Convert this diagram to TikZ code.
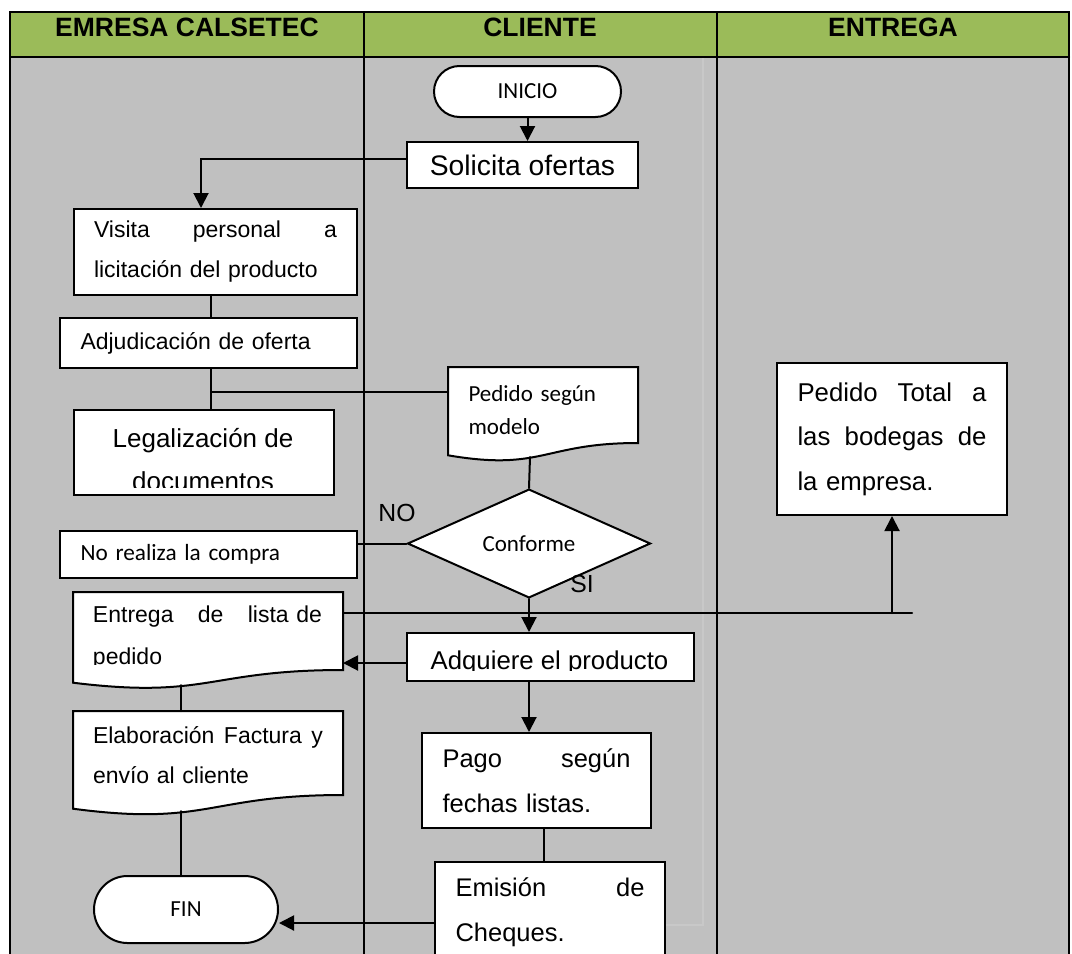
\documentclass[tikz,border=0pt]{standalone}
\usepackage{fontspec}
\setmainfont{Liberation Sans}
\newfontfamily\calfont{Carlito}
\usetikzlibrary{arrows.meta,calc,shapes.misc,shapes.geometric}
\definecolor{HeadGreen}{HTML}{9BBB59}
\definecolor{LaneGray}{HTML}{C0C0C0}
\definecolor{GhostGray}{HTML}{C8C8C8}
\tikzset{
  Flow/.style={line width=0.8pt},
  FlowArrow/.style={Flow, -{Triangle[length=6pt,width=6pt]}},
  ProcBox/.style={draw, fill=white, line width=0.8pt, inner sep=0pt, anchor=north west,
      font=\fontsize{9.2}{16}\selectfont},
  DocBox/.style={inner sep=0pt, anchor=north west},
  DocLine/.style={draw, fill=white, line width=0.8pt},
  Terminal/.style={draw, fill=white, line width=0.8pt, rounded rectangle, inner sep=0pt,
      font=\calfont\fontsize{9.2}{11}\selectfont},
  Decision/.style={draw, fill=white, line width=0.8pt, diamond, inner sep=0pt,
      font=\calfont\fontsize{9.2}{11}\selectfont},
  LaneHead/.style={inner sep=0pt, font=\bfseries\fontsize{10.6}{12}\selectfont},
  Branch/.style={inner sep=0pt, font=\fontsize{9.9}{11}\selectfont}
}
\begin{document}
\begin{tikzpicture}[x=0.4pt, y=-0.4pt, line cap=round]
  \useasboundingbox (0,0) rectangle (1072,953);

  \fill[LaneGray] (10,57) rectangle (1069,960);
  \fill[HeadGreen] (10,12) rectangle (1069,57);
  \draw[GhostGray, line width=0.5pt] (703,58) -- (703,925) -- (664,925);
  \draw[line width=0.9pt] (10,960) -- (10,12) -- (1069,12) -- (1069,960);
  \draw[line width=0.8pt] (10,57) -- (1069,57);
  \draw[line width=0.8pt] (364,12) -- (364,960);
  \draw[line width=0.8pt] (717,12) -- (717,960);
  \node[LaneHead] (hemp) at (187,27.5) {EMRESA CALSETEC};
  \node[LaneHead] (hcli) at (540,27.5) {CLIENTE};
  \node[LaneHead] (hent) at (893,27.5) {ENTREGA};

  % cliente
  \node[Terminal, minimum width=74.8pt, minimum height=20.4pt] (ini) at (527.5,91.5) {INICIO};
  \node[ProcBox, minimum width=92.4pt, minimum height=18.4pt,
        font=\fontsize{11.3}{13}\selectfont] (sol) at (406,141) {Solicita ofertas};
  \node[DocBox, minimum width=75.6pt, minimum height=30pt] (ped) at (448,367) {};
  \draw[DocLine] (ped.north west) -- (ped.north east) -- (ped.south east)
      .. controls (ped.south) and ($(ped.south)+(0,28.5)$) .. ($(ped.south west)+(0,12.3)$) -- cycle;
  \node[inner sep=0pt, text width=59.6pt, align=left,
        font=\calfont\fontsize{9.2}{13.2}\selectfont] (pedtxt) at ($(ped.center)+(0,5)$) {Pedido según\\modelo};
  \node[Decision, minimum width=97.2pt, minimum height=38.8pt] (dia) at (529,543.5) {Conforme};
  \node[ProcBox, minimum width=114.8pt, minimum height=19.2pt] (adq) at (406,632) {};
  \begin{scope}
    \clip (adq.north west) rectangle ($(adq.south east)+(0,-12)$);
    \node[inner sep=0pt, font=\fontsize{10.3}{12}\selectfont] (adqtxt) at (549.5,663) {Adquiere el producto};
  \end{scope}
  \node[ProcBox, minimum width=91.6pt, minimum height=38pt, text width=75.2pt, align=left,
        font=\fontsize{10.2}{18}\selectfont] (pago) at (421,732) {Pago\hfill según\\fechas listas.};
  \node[ProcBox, minimum width=92pt, minimum height=40pt, text width=75.6pt, align=left,
        font=\fontsize{10.2}{18}\selectfont] (emi) at (434,861) {Emisión\hfill de\\Cheques.};

  % empresa
  \node[ProcBox, minimum width=113.2pt, minimum height=34.4pt, text width=97.2pt, align=left]
      (vis) at (73,208) {Visita\hfill personal\hfill a\\licitación del producto};
  \node[ProcBox, minimum width=118.8pt, minimum height=20pt, text width=102.4pt, align=left]
      (adj) at (59,317) {Adjudicación de oferta};
  \node[ProcBox, minimum width=104pt, minimum height=34pt] (leg) at (73,409) {};
  \begin{scope}
    \clip (leg.north west) rectangle ($(leg.south east)+(0,-9)$);
    \node[inner sep=0pt, align=center, font=\fontsize{10.4}{17.2}\selectfont] (legtxt) at (203,460)
        {Legalización de\\documentos};
  \end{scope}
  \node[ProcBox, minimum width=118.8pt, minimum height=18.8pt, text width=102.4pt, align=left,
        font=\calfont\fontsize{9.3}{11}\selectfont] (nor) at (59,530) {No realiza la compra};
  \node[DocBox, minimum width=107.6pt, minimum height=30.8pt] (ent) at (73,592) {};
  \draw[DocLine] (ent.north west) -- (ent.north east) -- (ent.south east)
      .. controls (ent.south) and ($(ent.south)+(0,29.3)$) .. ($(ent.south west)+(0,12.7)$) -- cycle;
  \begin{scope}
    \clip (ent.north west) rectangle ($(ent.north east)+(0,72)$);
    \node[inner sep=0pt, text width=91.6pt, align=left, font=\fontsize{9.2}{16.8}\selectfont]
        (enttxt) at (207.5,638) {Entrega\hfill de\hfill lista de\\pedido};
  \end{scope}
  \node[DocBox, minimum width=107.6pt, minimum height=33.2pt] (ela) at (73,711) {};
  \draw[DocLine] (ela.north west) -- (ela.north east) -- (ela.south east)
      .. controls (ela.south) and ($(ela.south)+(0,31.6)$) .. ($(ela.south west)+(0,13.7)$) -- cycle;
  \node[inner sep=0pt, text width=92pt, align=left, font=\fontsize{9.2}{16}\selectfont]
      (elatxt) at ($(ela.center)+(0,2)$) {Elaboración\hfill Factura\hfill y\\envío al cliente};
  \node[Terminal, minimum width=73.6pt, minimum height=26.8pt] (fin) at (186,909.5) {FIN};

  % entrega
  \node[ProcBox, minimum width=92pt, minimum height=60.8pt, text width=75.6pt, align=left,
        font=\fontsize{10.3}{17.8}\selectfont] (tot) at (776,362)
      {Pedido\hfill Total\hfill a\\las\hfill bodegas\hfill de\\la empresa.};

  \node[Branch] (no) at (397,512.5) {NO};
  \node[Branch] (si) at (582,584) {SI};

  % connectors
  \coordinate (s1) at ($(sol.west)+(0,-6)$);
  \coordinate (v1) at ($(vis.north)+(-14.5,0)$);
  \coordinate (j1) at ($(vis.south)+(-4.5,0)$);
  \coordinate (p1) at ($(ped.west)+(0,-13.5)$);
  \coordinate (pw) at (530,457);
  \coordinate (h1) at ($(ent.north east)+(0,21)$);
  \coordinate (hend) at (912,613);
  \coordinate (a1) at ($(adq.west)+(0,6)$);
  \coordinate (ew1) at (181,685);
  \coordinate (ew2) at (181,811);
  \coordinate (q1) at ($(pago.south)+(7.5,0)$);
  \coordinate (f1) at ($(fin.east)+(0,13.5)$);

  \draw[FlowArrow] (ini.south) -- (ini.south |- sol.north);
  \draw[FlowArrow] (s1) -| (v1);
  \draw[Flow] (j1) -- (j1 |- adj.north);
  \draw[Flow] (adj.south -| j1) -- (leg.north -| j1);
  \draw[Flow] (p1 -| j1) -- (p1);
  \draw[Flow] (pw) -- (dia.north);
  \draw[Flow] (dia.west) -- (dia.west -| nor.east);
  \draw[Flow] (h1) -- (hend);
  \draw[FlowArrow] (h1 -| tot.south) -- (tot.south);
  \draw[FlowArrow] (dia.south) -- (dia.south |- adq.north);
  \draw[FlowArrow] (a1) -- (a1 -| ent.east);
  \draw[FlowArrow] (dia.south |- adq.south) -- (dia.south |- pago.north);
  \draw[Flow] (q1) -- (q1 |- emi.north);
  \draw[Flow] (ew1) -- (ew1 |- ela.north);
  \draw[Flow] (ew2) -- (ew2 |- fin.north);
  \draw[FlowArrow] (f1 -| emi.west) -- (f1);
\end{tikzpicture}
\end{document}
